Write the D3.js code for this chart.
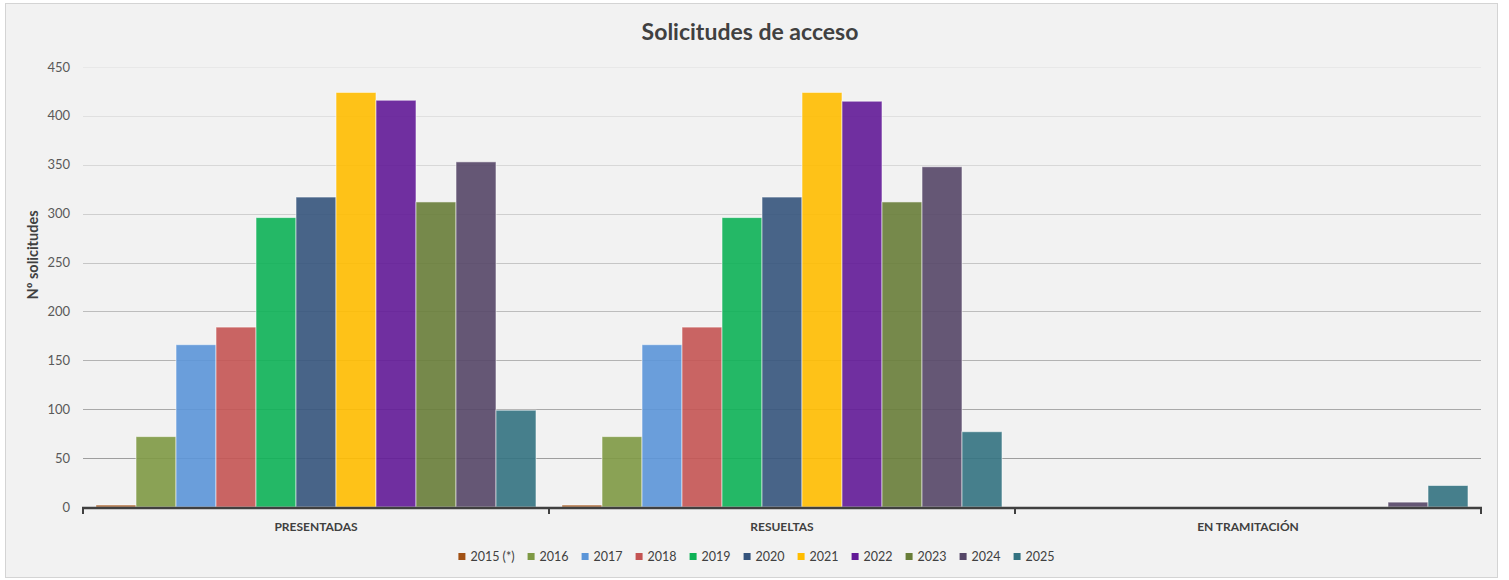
<!DOCTYPE html>
<html>
<head>
<meta charset="utf-8">
<script src="https://cdn.jsdelivr.net/npm/d3@7"></script>
<style>
  body { margin: 0; background: #fff; font-family: Lato, "Open Sans", sans-serif; }
</style>
</head>
<body>
<div id="chart-area"></div>
<script>
const width = 1509;
const height = 580;

const categories = ["PRESENTADAS", "RESUELTAS", "EN TRAMITACIÓN"];
const years = ["2015 (*)", "2016", "2017", "2018", "2019", "2020", "2021", "2022", "2023", "2024", "2025"];
const presentadas = [2, 72, 166, 184, 296, 317, 424, 416, 312, 353, 99];
const resueltas = [2, 72, 166, 184, 296, 317, 424, 415, 312, 348, 77];
const enTramitacion = [0, 0, 0, 0, 0, 0, 0, 0, 0, 5, 22];
const yTicks = [0, 50, 100, 150, 200, 250, 300, 350, 400, 450];

const series = [presentadas, resueltas, enTramitacion];
const data = categories.map((c, i) => ({
    cat: c,
    values: years.map((y, j) => ({ year: y, value: series[i][j] }))
}));

const color = d3.scaleOrdinal()
    .domain(years)
    .range(["#a15114", "#7e9944", "#5b95d8", "#c45453", "#0db156", "#35547c",
            "#ffbd00", "#621a97", "#687d38", "#554667", "#337281"]);

const margin = { top: 67, right: 28, bottom: 73, left: 83 };

const svg = d3.select("#chart-area")
    .append("svg")
        .attr("width", width)
        .attr("height", height);

// chart frame
svg.append("rect")
    .attr("x", 5.5).attr("y", 3.5)
    .attr("width", 1492).attr("height", 574)
    .attr("fill", "#f2f2f2")
    .attr("stroke", "#d4d4d4");

const x0 = d3.scaleBand()
    .domain(categories)
    .range([margin.left, width - margin.right])
    .padding(0);

const x1 = d3.scaleBand()
    .domain(years)
    .range([0, x0.bandwidth()])
    .paddingInner(0)
    .paddingOuter(0.325);

const y = d3.scaleLinear()
    .domain([0, 450])
    .range([height - margin.bottom, margin.top]);

// gridlines get lighter toward the top
const gridColor = d3.scalePow().exponent(0.8)
    .domain([0, 450])
    .range(["#8e8e8e", "#e8e8e8"]);

svg.append("g")
    .selectAll("line")
    .data(yTicks.filter(d => d > 0))
    .enter()
    .append("line")
        .attr("x1", margin.left)
        .attr("x2", width - margin.right)
        .attr("y1", d => Math.round(y(d)) + 0.5)
        .attr("y2", d => Math.round(y(d)) + 0.5)
        .attr("stroke", d => gridColor(d))
        .attr("stroke-width", 1);

// y tick labels
svg.append("g")
    .selectAll("text")
    .data(yTicks)
    .enter()
    .append("text")
        .attr("x", 70)
        .attr("y", d => y(d))
        .attr("dy", "0.35em")
        .attr("text-anchor", "end")
        .style("font-size", "13px")
        .style("fill", "#595959")
        .text(d => d);

// bars
const groups = svg.append("g")
    .selectAll("g")
    .data(data)
    .enter()
    .append("g")
        .attr("transform", d => `translate(${x0(d.cat)},0)`);

groups.selectAll("rect")
    .data(d => d.values.filter(v => v.value > 0))
    .enter()
    .append("rect")
        .attr("x", d => x1(d.year))
        .attr("y", d => y(d.value))
        .attr("width", x1.bandwidth())
        .attr("height", d => y(0) - y(d.value))
        .attr("fill", d => color(d.year))
        .attr("fill-opacity", 0.9)
        .attr("stroke", "rgba(255,255,255,0.55)")
        .attr("stroke-width", 1);

// x axis line and ticks
const axisY = y(0) + 1;
svg.append("line")
    .attr("x1", margin.left - 1)
    .attr("x2", width - margin.right + 1)
    .attr("y1", axisY)
    .attr("y2", axisY)
    .attr("stroke", "#404040")
    .attr("stroke-width", 2.5);

const boundaries = categories.map(c => x0(c)).concat([x0.range()[1]]);
svg.append("g")
    .selectAll("line")
    .data(boundaries)
    .enter()
    .append("line")
        .attr("x1", d => d)
        .attr("x2", d => d)
        .attr("y1", axisY)
        .attr("y2", axisY + 6)
        .attr("stroke", "#404040")
        .attr("stroke-width", 2);

// category labels
svg.append("g")
    .selectAll("text")
    .data(categories)
    .enter()
    .append("text")
        .attr("x", d => x0(d) + x0.bandwidth() / 2)
        .attr("y", 531)
        .attr("text-anchor", "middle")
        .style("font-size", "12px")
        .style("font-weight", "bold")
        .style("fill", "#404040")
        .text(d => d);

// title
svg.append("text")
    .attr("x", 750)
    .attr("y", 40)
    .attr("text-anchor", "middle")
    .style("font-size", "23px")
    .style("font-weight", "bold")
    .style("fill", "#404040")
    .text("Solicitudes de acceso");

// y axis title
svg.append("text")
    .attr("transform", "translate(38,255) rotate(-90)")
    .attr("text-anchor", "middle")
    .style("font-size", "14.5px")
    .style("font-weight", "bold")
    .style("fill", "#404040")
    .text("Nº solicitudes");

// legend
const legend = svg.append("g");
const items = legend.selectAll("g")
    .data(years)
    .enter()
    .append("g");

items.append("rect")
    .attr("width", 7)
    .attr("height", 7)
    .attr("y", -4)
    .attr("fill", d => color(d));

items.append("text")
    .attr("x", 12)
    .attr("dy", "0.35em")
    .style("font-size", "12.5px")
    .style("fill", "#404040")
    .text(d => d);

let offset = 0;
items.each(function() {
    d3.select(this).attr("transform", `translate(${offset},0)`);
    offset += this.getBBox().width + 13;
});
legend.attr("transform", `translate(${(width - (offset - 13)) / 2 + 2},557)`);
</script>
</body>
</html>
